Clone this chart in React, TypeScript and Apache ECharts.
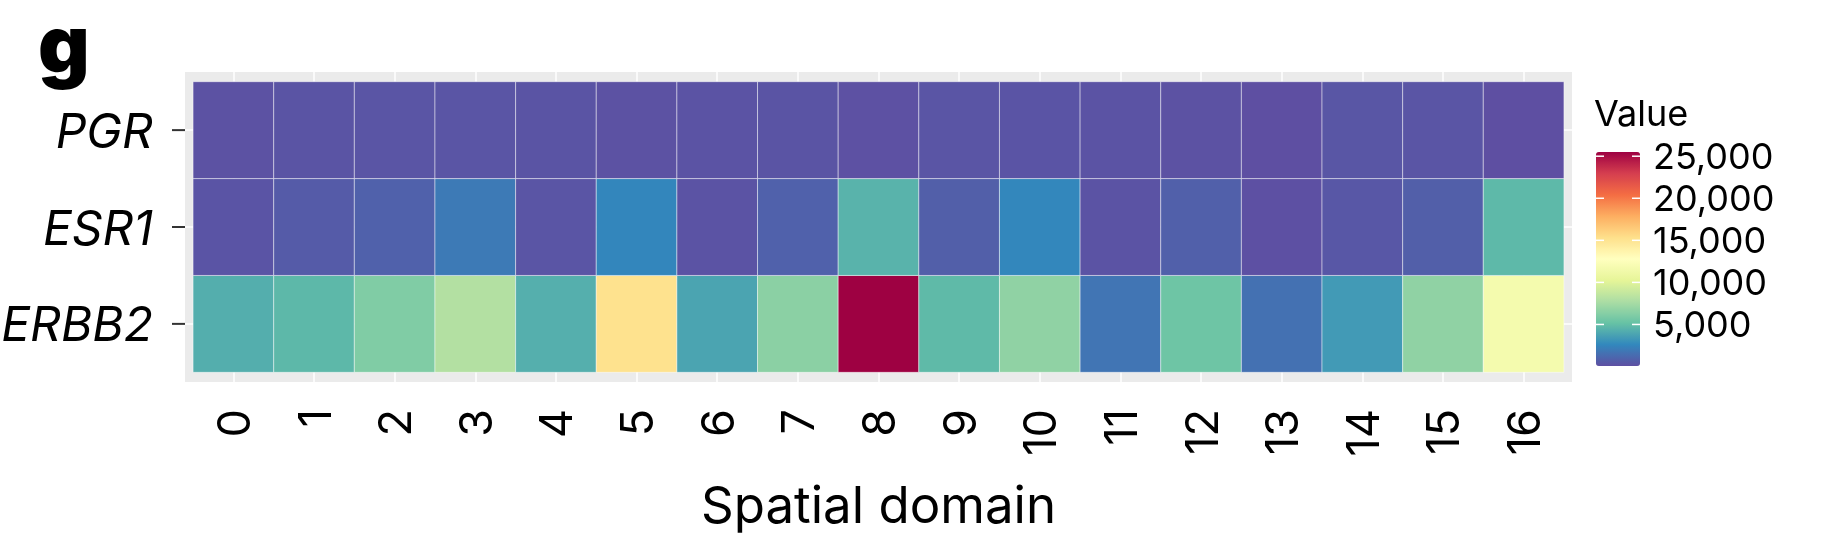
import React, { useEffect, useRef } from "react";
import * as echarts from "echarts";

// ---- data ----
const domains = ["0", "1", "2", "3", "4", "5", "6", "7", "8", "9", "10", "11", "12", "13", "14", "15", "16"];
const genes = ["ERBB2", "ESR1", "PGR"]; // bottom -> top
const erbb2 = [4280, 4720, 6110, 8020, 4300, 15200, 3830, 6500, 25500, 4790, 6700, 1740, 5450, 1590, 3390, 6680, 11640];
const esr1 = [300, 590, 870, 1990, 310, 2530, 260, 870, 4490, 760, 2550, 240, 800, 110, 420, 760, 4770];
const pgr = [180, 270, 310, 310, 270, 180, 220, 270, 130, 310, 300, 220, 180, 60, 360, 310, 80];
const legendTicks = [5000, 10000, 15000, 20000, 25000];
const spectralRev = ["#5E4FA2", "#3288BD", "#66C2A5", "#ABDDA4", "#E6F598", "#FFFFBF", "#FEE08B", "#FDAE61", "#F46D43", "#D53E4F", "#9E0142"];

const FONT = "Inter, 'Noto Sans', sans-serif";
const hiddenLine = { show: true, lineStyle: { color: "rgba(0,0,0,0)", width: 0 } };
const X_MIN = -0.6;
const X_MAX = 16.6;
const Y_MIN = -0.6;
const Y_MAX = 2.6;

export default function App() {
  const ref = useRef<HTMLDivElement>(null);
  useEffect(() => {
    if (!ref.current) return;
    const chart = echarts.init(ref.current, undefined, { renderer: "svg" });
    const rows = [erbb2, esr1, pgr];
    const data: number[][] = [];
    rows.forEach((r, yi) => r.forEach((v, xi) => data.push([xi, yi, v])));
    const all = rows.flat();
    const vmin = Math.min(...all);
    const vmax = Math.max(...all);
    const xIdx = domains.map((_, i) => i);
    const yIdx = genes.map((_, i) => i);

    chart.setOption({
      animation: false,
      textStyle: { fontFamily: FONT },
      title: [
        { text: "g", left: 38, top: 8, padding: 0, textStyle: { fontSize: 80, lineHeight: 70, fontWeight: 900, color: "#000", fontFamily: FONT } },
        { text: "Value", left: 1594, top: 95, padding: 0, textStyle: { fontSize: 36, fontWeight: "normal", color: "#000", fontFamily: FONT } },
      ],
      grid: [
        { left: 185, top: 72, width: 1387, height: 310, show: true, backgroundColor: "#EBEBEB", borderWidth: 0, outerBoundsMode: "none" },
        { left: 1596, top: 152, width: 44, height: 214, show: false, outerBoundsMode: "none" },
      ],
      xAxis: [
        {
          type: "value", gridIndex: 0, min: X_MIN, max: X_MAX,
          axisLine: hiddenLine,
          axisTick: { show: true, customValues: xIdx, length: 13, lineStyle: { color: "#333", width: 2 } },
          axisLabel: {
            customValues: xIdx, formatter: (v: number) => domains[Math.round(v)] ?? "",
            rotate: 90, margin: 27, fontSize: 45, color: "#000", fontFamily: FONT,
          },
          splitLine: { show: true, lineStyle: { color: "#FFFFFF", width: 1.5 } },
          name: "Spatial domain", nameLocation: "middle", nameGap: 97,
          nameTextStyle: { fontSize: 51, color: "#000", fontFamily: FONT },
        },
        { type: "value", gridIndex: 1, show: false, min: 0, max: 1 },
      ],
      yAxis: [
        {
          type: "value", gridIndex: 0, min: Y_MIN, max: Y_MAX,
          axisLine: hiddenLine,
          axisTick: { show: false, customValues: yIdx },
          axisLabel: {
            customValues: yIdx, formatter: (v: number) => genes[Math.round(v)] ?? "",
            margin: 32, fontSize: 48, fontStyle: "italic", color: "#000", fontFamily: FONT,
          },
          splitLine: { show: true, lineStyle: { color: "#FFFFFF", width: 1.5 } },
        },
        {
          type: "value", gridIndex: 1, min: vmin, max: vmax, position: "right",
          axisLine: { show: false },
          axisTick: { show: false, customValues: legendTicks },
          axisLabel: {
            customValues: legendTicks, formatter: (v: number) => v.toLocaleString("en-US"),
            margin: 13, fontSize: 36, color: "#000", fontFamily: FONT,
          },
          splitLine: { show: false },
        },
      ],
      visualMap: {
        type: "continuous",
        show: true,
        seriesIndex: 0,
        dimension: 2,
        min: vmin,
        max: vmax,
        inRange: { color: spectralRev },
        orient: "vertical",
        left: 1596,
        top: 152,
        itemWidth: 44,
        itemHeight: 214,
        padding: 0,
        calculable: false,
        hoverLink: false,
        z: 2,
      },
      series: [
        {
          type: "custom",
          xAxisIndex: 0,
          yAxisIndex: 0,
          data,
          encode: { x: 0, y: 1 },
          renderItem: (params: any, api: any) => {
            const x = api.value(0);
            const y = api.value(1);
            const p0 = api.coord([x - 0.5, y + 0.5]);
            const p1 = api.coord([x + 0.5, y - 0.5]);
            return {
              type: "rect",
              shape: { x: p0[0], y: p0[1], width: p1[0] - p0[0], height: p1[1] - p0[1] },
              style: { fill: api.visual("color"), stroke: "rgba(255,255,255,0.45)", lineWidth: 1 },
            };
          },
        },
        {
          // y-axis tick marks
          type: "custom",
          xAxisIndex: 0,
          yAxisIndex: 0,
          clip: false,
          silent: true,
          data: yIdx.map((i) => [0, i]),
          encode: { x: 0, y: 1 },
          renderItem: (params: any, api: any) => {
            const p = api.coord([X_MIN, api.value(1)]);
            return {
              type: "line",
              shape: { x1: p[0] - 13, y1: p[1], x2: p[0], y2: p[1] },
              style: { stroke: "#333", lineWidth: 2 },
            };
          },
        },
        {
          // colour-bar tick marks
          type: "custom",
          xAxisIndex: 1,
          yAxisIndex: 1,
          clip: false,
          silent: true,
          z: 10,
          data: legendTicks.map((v) => [0, v]),
          encode: { x: 0, y: 1 },
          renderItem: (params: any, api: any) => {
            const v = api.value(1);
            const a = api.coord([0, v]);
            const b = api.coord([1, v]);
            const st = { stroke: "#FFFFFF", lineWidth: 1.5 };
            return {
              type: "group",
              children: [
                { type: "line", shape: { x1: a[0], y1: a[1], x2: a[0] + 8, y2: a[1] }, style: st },
                { type: "line", shape: { x1: b[0] - 8, y1: b[1], x2: b[0], y2: b[1] }, style: st },
              ],
            };
          },
        },
      ],
    });
    return () => chart.dispose();
  }, []);
  return <div ref={ref} style={{ position: "fixed", left: 0, top: 0, width: 1824, height: 553 }} />;
}
